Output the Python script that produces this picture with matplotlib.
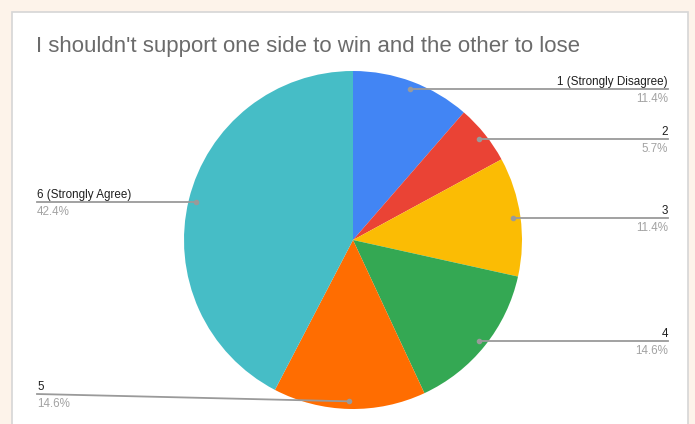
import matplotlib.pyplot as plt
from matplotlib.patches import Rectangle
import numpy as np

# chart data
labels = ["1 (Strongly Disagree)", "2", "3", "4", "5", "6 (Strongly Agree)"]
pcts = [11.4, 5.7, 11.4, 14.6, 14.6, 42.4]
colors = ["#4285F4", "#EA4335", "#FBBC04", "#34A853", "#FF6D01", "#46BDC6"]
title = "I shouldn't support one side to win and the other to lose"

# layout (pixels in the 695x424 image)
W, H = 695, 424
cx, cy, R = 353, 240, 169
label_side = ["right", "right", "right", "right", "left", "left"]
label_line_y = [None, None, None, None, 394, None]  # None -> same as point


def px(x, y):
    return (x - cx) / R, (cy - y) / R


plt.rcParams['font.family'] = ['Liberation Sans', 'DejaVu Sans']
fig = plt.figure(figsize=(W / 100, H / 100), dpi=100)
fig.patch.set_facecolor("#FDF3EA")
ax = fig.add_axes([0, 0, 1, 1])
ax.set_facecolor("none")

# white card
x0, y0 = px(12, 436)
x1, y1 = px(688, 12)
ax.add_patch(Rectangle((x0, y0), x1 - x0, y1 - y0, facecolor="white",
                       edgecolor="#d6d6d6", lw=1.2, zorder=0))

wedges, _ = ax.pie(pcts, colors=colors, startangle=90, counterclock=False,
                   radius=1, wedgeprops=dict(linewidth=0))
ax.set_aspect("equal")
ax.set_xlim(px(0, 0)[0], px(W, 0)[0])
ax.set_ylim(px(0, H)[1], px(0, 0)[1])
ax.axis("off")

ax.text(*px(36, 52), title, fontsize=16, color="#6b6b6b",
        va="baseline", ha="left")

for w, lab, p, side, ly in zip(wedges, labels, pcts, label_side, label_line_y):
    ang = np.deg2rad((w.theta1 + w.theta2) / 2)
    r = 0.955
    pxx, pyy = r * np.cos(ang), r * np.sin(ang)
    line_y = pyy if ly is None else px(0, ly)[1]
    tx = px(668, 0)[0] if side == "right" else px(37, 0)[0]
    ax.plot([pxx, tx], [pyy, line_y], color="#9a9a9a", lw=1.3, zorder=3)
    ax.plot(pxx, pyy, "o", color="#9a9a9a", ms=3, zorder=4)
    ha = "right" if side == "right" else "left"
    ax.text(tx, line_y + 4 / R, lab, fontsize=8.4, color="#1f1f1f",
            ha=ha, va="baseline")
    ax.text(tx, line_y - 4 / R, f"{p}%", fontsize=8.4, color="#a3a3a3",
            ha=ha, va="top")

fig.savefig("out.png", dpi=100, facecolor=fig.get_facecolor())
